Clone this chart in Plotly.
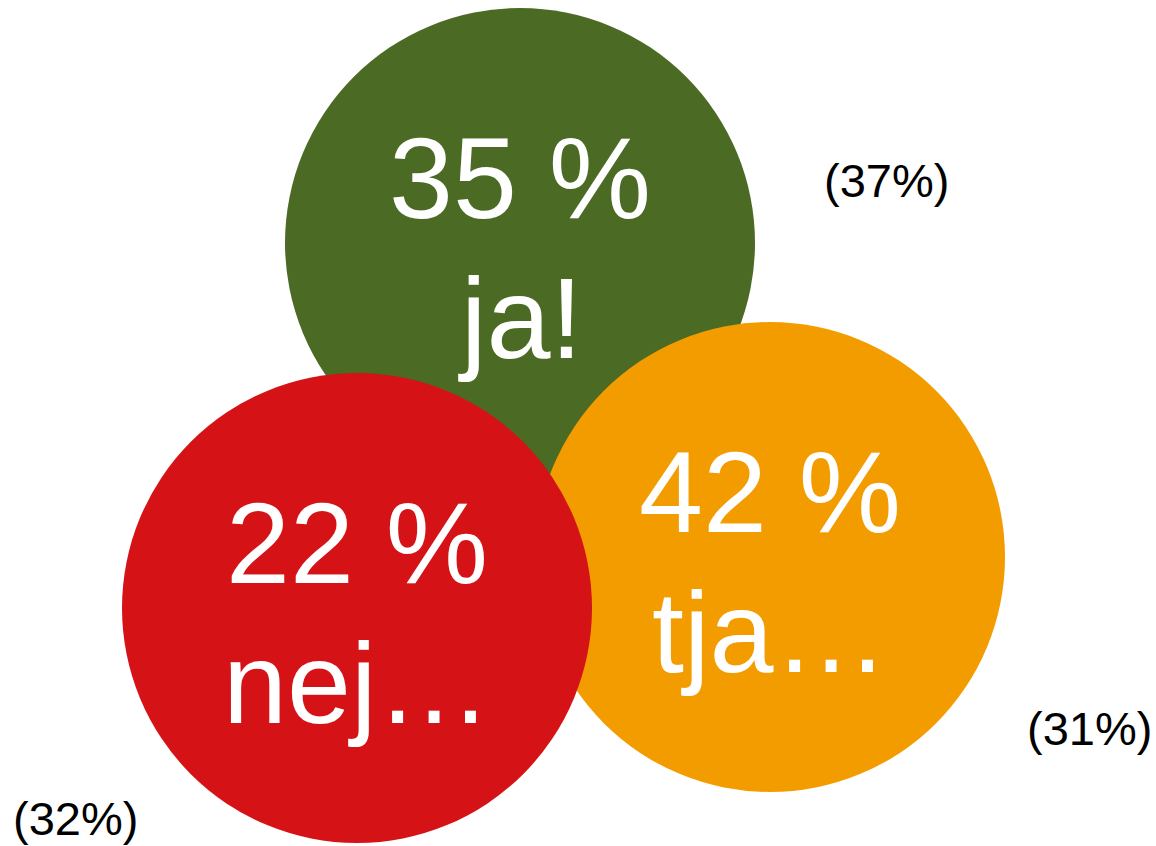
import plotly.graph_objects as go

# Data
answers = ["ja!", "tja…", "nej…"]
shares = [35, 42, 22]
previous = [37, 31, 32]
colors = ["#4B6A23", "#F39C00", "#D51317"]

# Layout (pixel-like coordinates of the canvas)
W, H = 1156, 846
centers_x = [520, 770, 357]
centers_y = [243, 557, 608]
radius = 235
prev_x = [886, 1089, 75]
prev_y = [180, 728, 818]

FONT = "Liberation Sans, Arial, sans-serif"
BIG = 115
SMALL = 47

fig = go.Figure()
# invisible trace to establish axes
fig.add_trace(go.Scatter(x=centers_x, y=centers_y, mode="markers",
                         marker=dict(size=1, opacity=0), hoverinfo="skip",
                         showlegend=False))

shapes = []
annotations = []
for col, cx, cy in zip(colors, centers_x, centers_y):
    shapes.append(dict(type="circle", xref="x", yref="y",
                       x0=cx - radius, x1=cx + radius,
                       y0=cy - radius, y1=cy + radius,
                       fillcolor=col, line=dict(width=0), layer="below"))

for ans, val, prev, cx, cy, px, py in zip(answers, shares, previous,
                                          centers_x, centers_y, prev_x, prev_y):
    off = 0.3465 * BIG
    annotations.append(dict(x=cx, y=cy - 25 - off, xref="x", yref="y",
                            text=f"{val} %", showarrow=False,
                            xanchor="center", yanchor="middle",
                            font=dict(family=FONT, size=BIG, color="white")))
    annotations.append(dict(x=cx, y=cy + 115 - off, xref="x", yref="y",
                            text=ans, showarrow=False,
                            xanchor="center", yanchor="middle",
                            font=dict(family=FONT, size=BIG, color="white")))
    annotations.append(dict(x=px, y=py, xref="x", yref="y",
                            text=f"({prev}%)", showarrow=False,
                            xanchor="center", yanchor="middle",
                            font=dict(family=FONT, size=SMALL, color="black")))

fig.update_layout(
    width=W, height=H,
    margin=dict(l=0, r=0, t=0, b=0),
    paper_bgcolor="white", plot_bgcolor="white",
    xaxis=dict(range=[0, W], visible=False, fixedrange=True),
    yaxis=dict(range=[H, 0], visible=False, fixedrange=True),
    shapes=shapes, annotations=annotations,
    showlegend=False,
)

fig.write_html("out.html", config={"displayModeBar": False},
               post_script="document.body.style.margin='0';document.body.style.overflow='hidden';")
